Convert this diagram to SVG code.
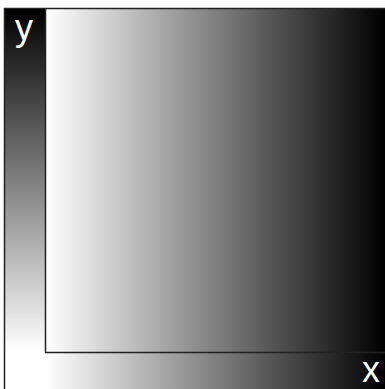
<svg xmlns="http://www.w3.org/2000/svg" width="385" height="389" viewBox="0 0 385 389">
<defs>
<linearGradient id="gx" gradientUnits="userSpaceOnUse" x1="46" y1="0" x2="385" y2="0">
<stop offset="0" stop-color="#ffffff"/>
<stop offset="1" stop-color="#000000"/>
</linearGradient>
<linearGradient id="gy" gradientUnits="userSpaceOnUse" x1="0" y1="8" x2="0" y2="352">
<stop offset="0" stop-color="#000000"/>
<stop offset="1" stop-color="#ffffff"/>
</linearGradient>
<style>
.lbl{font-family:"Liberation Sans",Arial,sans-serif;font-size:36px;fill:#ffffff}
.ln{stroke:#222;stroke-width:1.5;fill:none}
</style>
</defs>
<rect x="0" y="0" width="385" height="389" fill="#ffffff"/>
<g id="field"><rect x="4" y="8" width="381" height="381" fill="url(#gx)"/></g>
<g id="yaxis"><rect x="4" y="8" width="41" height="344" fill="url(#gy)"/>
<text class="lbl" x="15" y="40">y</text></g>
<g id="xaxis"><text class="lbl" x="362" y="382">x</text></g>
<g id="connectors">
<path class="ln" d="M4.5,389 V8.5 H385"/>
<path class="ln" d="M45.5,8.5 V352.5 H385"/>
</g>
</svg>
